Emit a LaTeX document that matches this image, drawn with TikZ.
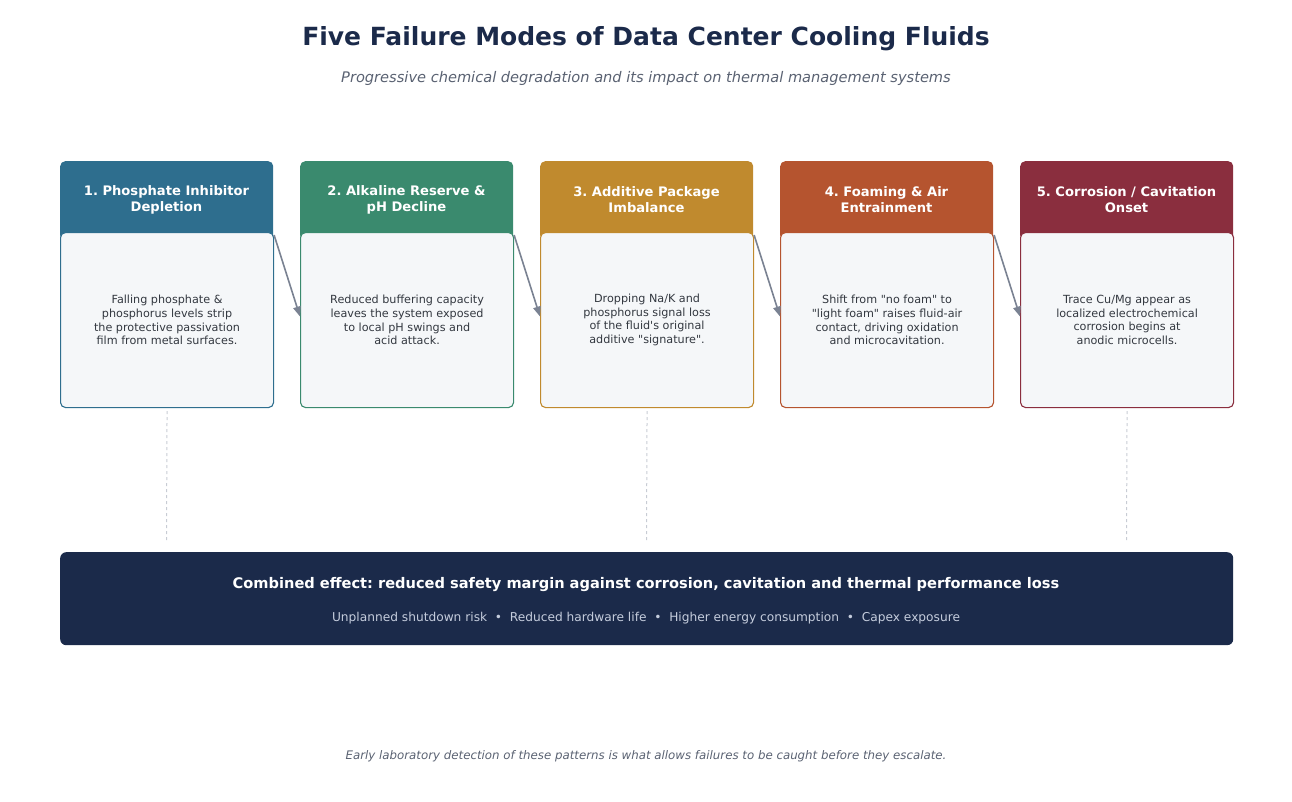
\documentclass[tikz,border=0pt]{standalone}
\usepackage{fontspec}
\setmainfont{DejaVu Sans}
\usetikzlibrary{arrows.meta}
\definecolor{cA}{HTML}{2E6E8E}
\definecolor{cB}{HTML}{3A8A6E}
\definecolor{cC}{HTML}{C08A2E}
\definecolor{cD}{HTML}{B5542F}
\definecolor{cE}{HTML}{8A2E3E}
\definecolor{navy}{HTML}{1B2A4A}
\definecolor{subgray}{HTML}{5A6272}
\definecolor{bodyfill}{HTML}{F5F7F9}
\definecolor{bodytext}{HTML}{333840}
\definecolor{arrgray}{HTML}{7A8292}
\definecolor{dotgray}{HTML}{C8CCD4}
\definecolor{lightsub}{HTML}{C5CDDD}
\frenchspacing
\newcommand{\qd}{\textquotedbl}
\tikzset{
  headbox/.style={fill=#1, rounded corners=5pt, minimum width=213pt, minimum height=79pt, anchor=north west, inner sep=0pt},
  headtext/.style={text=white, font=\fontsize{13.1}{16}\selectfont\bfseries, align=center},
  bodybox/.style={draw=#1, fill=bodyfill, line width=1.1pt, rounded corners=5pt, minimum width=213pt, minimum height=175pt, anchor=north west, inner sep=0pt, text=bodytext, font=\fontsize{11.2}{13.6}\selectfont, align=center},
  flowarrow/.style={draw=arrgray, line width=1.6pt, -{Triangle[length=10pt,width=7.5pt]}},
  guide/.style={draw=dotgray, line width=1pt, dash pattern=on 3pt off 3pt}
}
\begin{document}
\begin{tikzpicture}[x=1pt,y=-1pt]
\useasboundingbox (0,0) rectangle (1292,802);
\node[text=navy, font=\fontsize{25}{29}\selectfont\bfseries] (title) at (646,38.5) {Five Failure Modes of Data Center Cooling Fluids};
\node[text=subgray, font=\fontsize{14.6}{17}\selectfont\itshape] (subtitle) at (646,78) {Progressive chemical degradation and its impact on thermal management systems};

% headers
\node[headbox=cA] (h1) at (60,161) {};
\node[headbox=cB] (h2) at (300,161) {};
\node[headbox=cC] (h3) at (540,161) {};
\node[headbox=cD] (h4) at (780,161) {};
\node[headbox=cE] (h5) at (1020,161) {};
\node[headtext] (t1) at (166.5,199.5) {1. Phosphate Inhibitor\\Depletion};
\node[headtext] (t2) at (406.5,199.5) {2. Alkaline Reserve \&\\pH Decline};
\node[headtext] (t3) at (646.5,199.5) {3. Additive Package\\Imbalance};
\node[headtext] (t4) at (886.5,199.5) {4. Foaming \& Air\\Entrainment};
\node[headtext] (t5) at (1126.5,199.5) {5. Corrosion / Cavitation\\Onset};

% bodies
\node[bodybox=cA] (b1) at (60,232) {Falling phosphate \&\\phosphorus levels strip\\the protective passivation\\film from metal surfaces.};
\node[bodybox=cB] (b2) at (300,232) {Reduced buffering capacity\\leaves the system exposed\\to local pH swings and\\acid attack.};
\node[bodybox=cC] (b3) at (540,232) {Dropping Na/K and\\phosphorus signal loss\\of the fluid\textquotesingle s original\\additive \qd signature\qd.};
\node[bodybox=cD] (b4) at (780,232) {Shift from \qd no foam\qd\ to\\\qd light foam\qd\ raises fluid-air\\contact, driving oxidation\\and microcavitation.};
\node[bodybox=cE] (b5) at (1020,232) {Trace Cu/Mg appear as\\localized electrochemical\\corrosion begins at\\anodic microcells.};

% arrows
\draw[flowarrow] ([yshift=-3pt]b1.north east) -- ([yshift=3.5pt]b2.west);
\draw[flowarrow] ([yshift=-3pt]b2.north east) -- ([yshift=3.5pt]b3.west);
\draw[flowarrow] ([yshift=-3pt]b3.north east) -- ([yshift=3.5pt]b4.west);
\draw[flowarrow] ([yshift=-3pt]b4.north east) -- ([yshift=3.5pt]b5.west);

% combined effect box
\node[fill=navy, rounded corners=6pt, minimum width=1173pt, minimum height=93pt, anchor=north west, inner sep=0pt] (combo) at (60,552) {};
\node[text=white, font=\fontsize{14.6}{17}\selectfont\bfseries] (combotitle) at (646,585) {Combined effect: reduced safety margin against corrosion, cavitation and thermal performance loss};
\node[text=lightsub, font=\fontsize{12.2}{14}\selectfont] (combosub) at (646,618.5) {Unplanned shutdown risk~~•~~Reduced hardware life~~•~~Higher energy consumption~~•~~Capex exposure};

% guides
\coordinate (g1) at (166.5,540);
\coordinate (g3) at (646.5,540);
\coordinate (g5) at (1126.5,540);
\draw[guide] ([yshift=-3pt]b1.south) -- (g1);
\draw[guide] ([yshift=-3pt]b3.south) -- (g3);
\draw[guide] ([yshift=-3pt]b5.south) -- (g5);

\node[text=subgray, font=\fontsize{11.8}{14}\selectfont\itshape] (footer) at (646,756) {Early laboratory detection of these patterns is what allows failures to be caught before they escalate.};
\end{tikzpicture}
\end{document}
